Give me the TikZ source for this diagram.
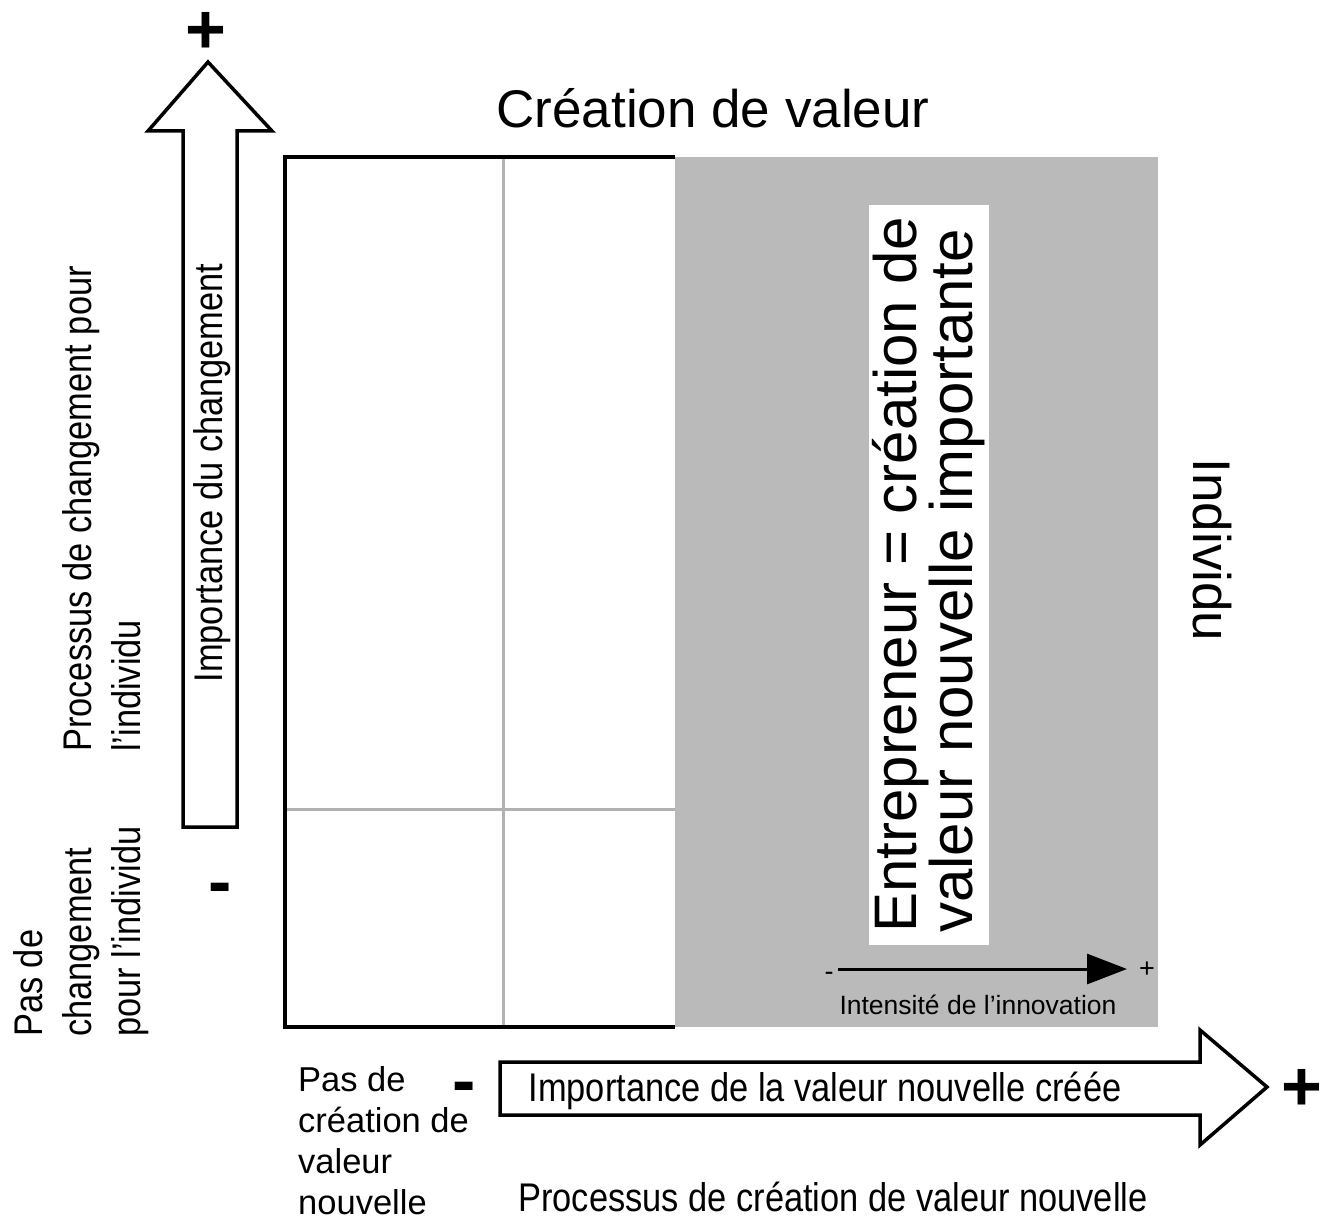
\documentclass[tikz,border=0pt]{standalone}
\usepackage{fontspec}
\setmainfont{Liberation Sans}
\newfontfamily\narrowfont[FakeStretch=0.86]{Liberation Sans}
\usetikzlibrary{arrows.meta}
\definecolor{stripegray}{HTML}{BABABA}
\definecolor{linegray}{HTML}{B2B2B2}

\begin{document}
\begin{tikzpicture}[x=1pt, y=-1pt, inner sep=0pt,
    blockarrow/.style={draw, line width=3.5pt, fill=white, line join=miter},
    axislabel/.style={font=\narrowfont\fontsize{40}{49}\selectfont, align=left},
    sign/.style={font=\fontsize{70}{70}\selectfont\bfseries}]

        \useasboundingbox (0,0) rectangle (1322,1220);

        % Title
        \node (title) at (713,108) {\fontsize{53}{60}\selectfont Création de valeur};

        % Grid
        \fill[stripegray] (675,157) rectangle (1158,1027);
        \draw[linegray, line width=3pt] (503,157) -- (503,1027);
        \draw[linegray, line width=3pt] (285,809) -- (675,809);
        \draw[line width=4pt] (675,157) -- (285,157) -- (285,1027) -- (675,1027);

        % Entrepreneur
        \node (entre) [fill=white, rotate=90, minimum width=740, minimum height=120,
            align=left, font=\fontsize{60}{56}\selectfont] at (929,575)
            {Entrepreneur = création de\\valeur nouvelle importante};

        % Innovation
        \coordinate (innolow) at (838,969);
        \coordinate (innohigh) at (1127,969);
        \draw[line width=3pt, -{Triangle[length=40pt, width=30pt]}] (innolow) -- (innohigh);
        \node (innominus) at (829,976) {\fontsize{27}{30}\selectfont -};
        \node (innoplus) at (1147,970) {\fontsize{27}{30}\selectfont +};
        \node (innolabel) at (978,1005) {\fontsize{26.5}{30}\selectfont Intensité de l’innovation};

        % Vertical axis
        \filldraw[blockarrow] (183,827) -- (183,131) -- (148,131) -- (208,62)
            -- (272,131) -- (237,131) -- (237,827) -- cycle;
        \node (vlabel) [axislabel, rotate=90] at (212,473) {Importance du changement};
        \node (vplus) [sign] at (206,33) {+};
        \node (vminus) [sign] at (220,894) {-};
        \node (vhigh) [axislabel, rotate=90, anchor=north west] at (62,752)
            {Processus de changement pour\\l’individu};
        \node (vlow) [axislabel, rotate=90, anchor=north west] at (13,1037)
            {Pas de\\changement\\pour l’individu};

        % Horizontal axis
        \filldraw[blockarrow] (500,1062) -- (1200,1062) -- (1200,1030) -- (1267,1087)
            -- (1200,1145) -- (1200,1115) -- (500,1115) -- cycle;
        \node (hlabel) [axislabel] at (825,1091) {Importance de la valeur nouvelle créée};
        \node (hplus) [sign] at (1302,1090) {+};
        \node (hminus) [sign] at (464,1093) {-};
        \node (hlow) [anchor=north west, align=left, font=\fontsize{34.5}{41}\selectfont]
            at (298,1066) {Pas de\\création de\\valeur\\nouvelle};
        \node (hprocess) [axislabel] at (833,1197) {Processus de création de valeur nouvelle};

        % Individu
        \node (indiv) [rotate=-90, font=\fontsize{53}{60}\selectfont] at (1212,550) {Individu};

\end{tikzpicture}
\end{document}
